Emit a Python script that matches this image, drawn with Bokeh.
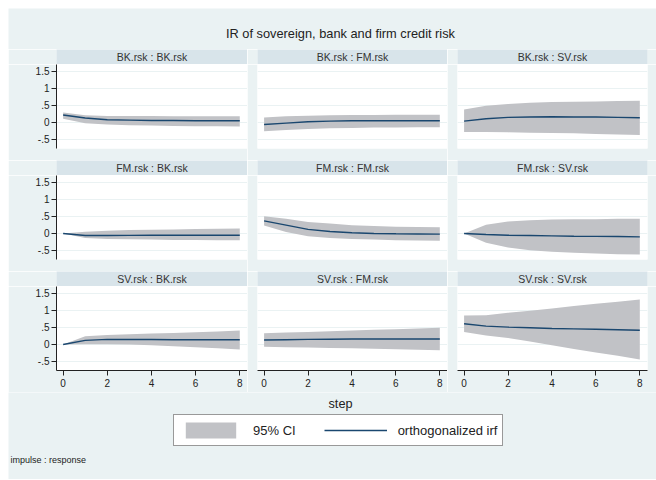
from bokeh.plotting import figure
from bokeh.layouts import column, row
from bokeh.models import (ColumnDataSource, Range1d, FixedTicker, LinearAxis, Grid,
                          Label, Legend, LegendItem)
from bokeh.embed import file_html
from bokeh.resources import INLINE

# ---------------- data ----------------
steps = [0, 1, 2, 3, 4, 5, 6, 7, 8]
variables = ["BK.rsk", "FM.rsk", "SV.rsk"]
y_ticks = [-0.5, 0, 0.5, 1, 1.5]
y_tick_labels = ["-.5", "0", ".5", "1", "1.5"]
x_ticks = [0, 2, 4, 6, 8]
chart_title = "IR of sovereign, bank and firm credit risk"
x_label = "step"
note = "impulse : response"
legend_labels = ["95% CI", "orthogonalized irf"]

# impulse BK.rsk
irf_bk_bk = [0.22, 0.13, 0.08, 0.07, 0.06, 0.06, 0.05, 0.05, 0.05]
lo_bk_bk = [0.11, -0.02, -0.06, -0.08, -0.09, -0.10, -0.11, -0.11, -0.12]
hi_bk_bk = [0.29, 0.21, 0.19, 0.19, 0.19, 0.18, 0.18, 0.18, 0.18]
irf_bk_fm = [-0.06, -0.02, 0.02, 0.04, 0.05, 0.05, 0.05, 0.05, 0.05]
lo_bk_fm = [-0.26, -0.22, -0.19, -0.17, -0.16, -0.15, -0.15, -0.14, -0.14]
hi_bk_fm = [0.15, 0.18, 0.20, 0.21, 0.22, 0.22, 0.23, 0.23, 0.23]
irf_bk_sv = [0.04, 0.11, 0.15, 0.16, 0.17, 0.16, 0.16, 0.15, 0.14]
lo_bk_sv = [-0.28, -0.28, -0.29, -0.30, -0.31, -0.32, -0.34, -0.35, -0.37]
hi_bk_sv = [0.38, 0.49, 0.54, 0.58, 0.60, 0.61, 0.62, 0.63, 0.64]
# impulse FM.rsk
irf_fm_bk = [0.0, -0.06, -0.06, -0.055, -0.05, -0.05, -0.05, -0.05, -0.05]
lo_fm_bk = [0.0, -0.13, -0.16, -0.17, -0.18, -0.19, -0.19, -0.20, -0.20]
hi_fm_bk = [0.0, 0.05, 0.08, 0.10, 0.11, 0.12, 0.13, 0.14, 0.15]
irf_fm_fm = [0.37, 0.245, 0.12, 0.06, 0.02, 0.0, -0.01, -0.015, -0.02]
lo_fm_fm = [0.235, 0.04, -0.08, -0.13, -0.16, -0.18, -0.20, -0.205, -0.21]
hi_fm_fm = [0.51, 0.43, 0.34, 0.29, 0.245, 0.22, 0.20, 0.19, 0.18]
irf_fm_sv = [0.0, -0.03, -0.05, -0.06, -0.07, -0.08, -0.085, -0.09, -0.10]
lo_fm_sv = [0.0, -0.27, -0.41, -0.49, -0.54, -0.57, -0.59, -0.61, -0.62]
hi_fm_sv = [0.0, 0.26, 0.35, 0.39, 0.41, 0.42, 0.42, 0.43, 0.43]
# impulse SV.rsk
irf_sv_bk = [0.0, 0.12, 0.15, 0.145, 0.145, 0.14, 0.14, 0.14, 0.14]
lo_sv_bk = [0.0, 0.01, 0.01, 0.0, -0.02, -0.05, -0.08, -0.11, -0.15]
hi_sv_bk = [0.0, 0.245, 0.28, 0.30, 0.32, 0.34, 0.36, 0.385, 0.41]
irf_sv_fm = [0.13, 0.14, 0.15, 0.155, 0.16, 0.16, 0.16, 0.16, 0.16]
lo_sv_fm = [-0.07, -0.08, -0.09, -0.10, -0.11, -0.125, -0.14, -0.155, -0.17]
hi_sv_fm = [0.33, 0.35, 0.37, 0.39, 0.41, 0.43, 0.45, 0.47, 0.49]
irf_sv_sv = [0.61, 0.54, 0.51, 0.49, 0.47, 0.46, 0.45, 0.435, 0.42]
lo_sv_sv = [0.37, 0.265, 0.19, 0.09, -0.02, -0.13, -0.235, -0.33, -0.44]
hi_sv_sv = [0.85, 0.86, 0.93, 0.99, 1.06, 1.13, 1.20, 1.26, 1.32]

panels = {
    (0, 0): (irf_bk_bk, lo_bk_bk, hi_bk_bk),
    (0, 1): (irf_bk_fm, lo_bk_fm, hi_bk_fm),
    (0, 2): (irf_bk_sv, lo_bk_sv, hi_bk_sv),
    (1, 0): (irf_fm_bk, lo_fm_bk, hi_fm_bk),
    (1, 1): (irf_fm_fm, lo_fm_fm, hi_fm_fm),
    (1, 2): (irf_fm_sv, lo_fm_sv, hi_fm_sv),
    (2, 0): (irf_sv_bk, lo_sv_bk, hi_sv_bk),
    (2, 1): (irf_sv_fm, lo_sv_fm, hi_sv_fm),
    (2, 2): (irf_sv_sv, lo_sv_sv, hi_sv_sv),
}

# ---------------- style ----------------
BG = "#eaf2f3"
STRIP = "#d8e4ea"
BAND = "#c1c2c6"
LINE = "#1a476f"
TXT = "#222222"
FONT = "Liberation Sans"
TOTAL_W = 648
COL_W = [239, 200, 209]
COL_L = [48, 10, 10]
COL_R = [0, 0, 9]
STRIP_H = 15
FRAME_H = 84
GAP = 12
AXIS_H = 22
TITLE_H = 41
BOTTOM_H = 87


def base_fig(w, h, xr, yr, left=0, right=0, top=0, bottom=0, bg=BG):
    f = figure(width=w, height=h, x_range=xr, y_range=yr,
               x_axis_location=None, y_axis_location=None,
               toolbar_location=None, output_backend="svg",
               min_border=0, min_border_left=left, min_border_right=right,
               min_border_top=top, min_border_bottom=bottom,
               background_fill_color=bg, border_fill_color=BG,
               outline_line_color=None)
    f.center = [r for r in f.center if not isinstance(r, Grid)]
    return f


def style_axis(ax):
    ax.axis_line_color = TXT
    ax.major_tick_line_color = TXT
    ax.minor_tick_line_color = None
    ax.major_tick_out = 5
    ax.major_tick_in = 0
    ax.major_label_text_font = FONT
    ax.major_label_text_font_size = "10px"
    ax.major_label_text_color = TXT


# title
title_fig = base_fig(TOTAL_W, TITLE_H, Range1d(0, TOTAL_W), Range1d(0, TITLE_H))
title_fig.add_layout(Label(x=332, y=16, text=chart_title, text_align="center",
                           text_baseline="middle", text_font=FONT,
                           text_font_size="12.8px", text_color=TXT))

rows = [title_fig]
for i in range(3):
    strip_row = []
    panel_row = []
    for j in range(3):
        s = base_fig(COL_W[j], STRIP_H, Range1d(0, 1), Range1d(0, 1),
                     left=COL_L[j], right=COL_R[j], bg=STRIP)
        s.add_layout(Label(x=0.5, y=0.5, text=f"{variables[i]} : {variables[j]}",
                           text_align="center", text_baseline="middle",
                           text_font=FONT, text_font_size="10.5px", text_color="#333333"))
        strip_row.append(s)

        bottom = AXIS_H if i == 2 else GAP
        p = base_fig(COL_W[j], FRAME_H + bottom, Range1d(-0.3, 8.35), Range1d(-0.765, 1.705),
                     left=COL_L[j], right=COL_R[j], bottom=bottom, bg="white")
        p.add_layout(Grid(dimension=1, ticker=FixedTicker(ticks=y_ticks, minor_ticks=[]),
                          grid_line_color=BG, grid_line_width=1))
        if j == 0:
            yax = LinearAxis(ticker=FixedTicker(ticks=y_ticks, minor_ticks=[]),
                             major_label_overrides={t: l for t, l in zip(y_ticks, y_tick_labels)})
            style_axis(yax)
            yax.major_label_standoff = 2
            p.add_layout(yax, "left")
        if i == 2:
            xax = LinearAxis(ticker=FixedTicker(ticks=x_ticks, minor_ticks=[]))
            style_axis(xax)
            xax.major_label_standoff = 3
            p.add_layout(xax, "below")
        irf, lo, hi = panels[(i, j)]
        src = ColumnDataSource(data=dict(step=steps, irf=irf, lo=lo, hi=hi))
        p.varea(x="step", y1="lo", y2="hi", source=src, fill_color=BAND, fill_alpha=1)
        p.line(x="step", y="irf", source=src, line_color=LINE, line_width=1.4)
        panel_row.append(p)
    rows.append(row(*strip_row, spacing=0))
    rows.append(row(*panel_row, spacing=0))

# bottom: x label, legend, note
bot = base_fig(TOTAL_W, BOTTOM_H, Range1d(0, TOTAL_W), Range1d(0, BOTTOM_H))
bot.add_layout(Label(x=332, y=BOTTOM_H - 11, text=x_label, text_align="center",
                     text_baseline="middle", text_font=FONT, text_font_size="12.7px",
                     text_color=TXT))
bot.add_layout(Label(x=2, y=BOTTOM_H - 67, text=note, text_align="left", text_baseline="middle",
                     text_font=FONT, text_font_size="9px", text_color=TXT))
# legend proxies (hidden renderers carrying one series, used only for the key)
proxy = ColumnDataSource(data=dict(step=steps, irf=irf_sv_sv, lo=lo_sv_sv, hi=hi_sv_sv))
r_band = bot.varea(x="step", y1="lo", y2="hi", source=proxy, fill_color=BAND, fill_alpha=1,
                   visible=False)
r_line = bot.line(x="step", y="irf", source=proxy, line_color=LINE, line_width=1.4,
                  visible=False)
leg = Legend(items=[LegendItem(label=legend_labels[0], renderers=[r_band]),
                    LegendItem(label=legend_labels[1], renderers=[r_line])],
             orientation="horizontal", location=(165, BOTTOM_H - 54), margin=0, padding=5,
             spacing=28, glyph_width=63, glyph_height=20, label_standoff=11,
             label_text_font=FONT, label_text_font_size="13px", label_text_color=TXT,
             border_line_color="#333333", border_line_width=1,
             background_fill_color="white", background_fill_alpha=1)
bot.add_layout(leg)
rows.append(bot)

layout = column(*rows, spacing=0, margin=(8, 0, 0, 8))
open("out.html", "w").write(file_html(layout, INLINE))
